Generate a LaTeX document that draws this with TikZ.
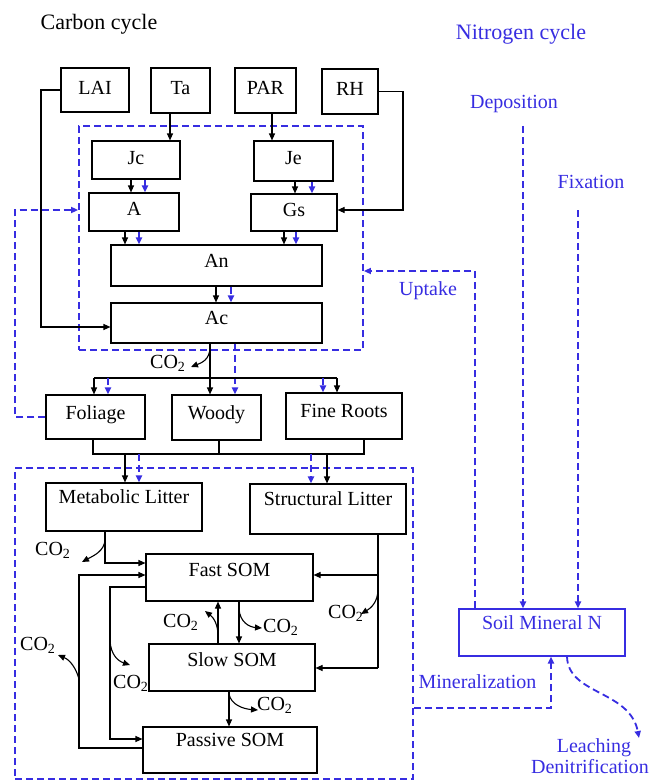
\documentclass[tikz,border=0pt]{standalone}
\usepackage{fontspec}
\setmainfont{Liberation Serif}
\usetikzlibrary{arrows.meta}
\definecolor{nblue}{RGB}{55,45,225}
\begin{document}
\begin{tikzpicture}[x=1pt,y=-1pt,
  box/.style={draw=black, line width=1.1pt, inner sep=0pt, font=\fontsize{20}{24}\selectfont, text height=13pt},
  sz/.style 2 args={minimum width=#1pt, minimum height=#2pt},
  up/.style={text depth=#1pt},
  nbox/.style={draw=nblue, line width=1.8pt, dash pattern=on 7pt off 4pt, inner sep=0pt},
  ln/.style={draw=black, line width=1.1pt},
  arr/.style={draw=black, line width=1.1pt, -{Triangle[length=7pt,width=6pt]}},
  barr/.style={draw=nblue, line width=1.8pt, dash pattern=on 7pt off 4pt, -{Triangle[length=7pt,width=6pt]}},
  lbl/.style={inner sep=0pt, font=\fontsize{20}{24}\selectfont},
  blbl/.style={inner sep=0pt, font=\fontsize{20}{24}\selectfont, text=nblue},
  ttl/.style={inner sep=0pt, font=\fontsize{22}{26}\selectfont}]
\useasboundingbox (0,0) rectangle (650,781);

% titles
\node[ttl, anchor=base] (tc) at (99,30) {Carbon cycle};
\node[ttl, anchor=base, text=nblue] (tn) at (521,40) {Nitrogen cycle};

% dashed nitrogen enclosures
\node[nbox, sz={284}{224}] (Nin) at (221,238) {};
\node[nbox, sz={398}{311}] (Nsoil) at (214,623.5) {};

% boxes
\node[box, sz={68}{44}, up=4] (LAI) at (95,90) {LAI};
\node[box, sz={59}{45}, up=5] (Ta) at (180.5,90.5) {Ta};
\node[box, sz={61}{45}, up=5] (PAR) at (265.5,90.5) {PAR};
\node[box, sz={56}{45}, up=5] (RH) at (350,91.5) {RH};
\node[box, sz={88}{38}, up=4] (Jc) at (136,160) {Jc};
\node[box, sz={79}{40}, up=6] (Je) at (293.5,161) {Je};
\node[box, sz={90}{38}, up=6] (A) at (134,212) {A};
\node[box, sz={86}{37}, up=5] (Gs) at (294,212.5) {Gs};
\node[box, sz={211}{41}, up=9] (An) at (216.5,265.5) {An};
\node[box, sz={211}{40}, up=10] (Ac) at (216.5,323) {Ac};
\node[box, sz={99}{44}, up=8] (Fol) at (95.5,417) {Foliage};
\node[box, sz={89}{45}, up=10] (Wood) at (216.5,417.5) {Woody};
\node[box, sz={116}{46}, up=10] (Root) at (344,416) {Fine Roots};
\node[box, sz={156}{48}, up=20] (Met) at (124,507) {Metabolic Litter};
\node[box, sz={156}{50}, up=20] (Str) at (328,509) {Structural Litter};
\node[box, sz={167}{47}, up=15] (Fast) at (229.5,577.5) {Fast SOM};
\node[box, sz={166}{47}, up=15] (Slow) at (232,667.5) {Slow SOM};
\node[box, sz={174}{46}, up=20] (Pas) at (230,750) {Passive SOM};
\node[box, draw=nblue, text=nblue, sz={166}{47}, up=19] (Soil) at (542,632.5) {Soil Mineral N};

% drivers
\draw[arr] (170,0 |- Ta.south) -- (170,0 |- Jc.north);
\draw[arr] (272,0 |- PAR.south) -- (272,0 |- Je.north);
\coordinate (rhc) at (403,210);
\draw[arr] (RH.east) -| (rhc) -- (rhc -| Gs.east);
\coordinate (laic) at (41,327);
\draw[arr] (LAI.west) -| (laic) -- (laic -| Ac.west);

% photosynthesis chain
\draw[arr] (131,0 |- Jc.south) -- (131,0 |- A.north);
\draw[barr] (145,0 |- Jc.south) -- (145,0 |- A.north);
\draw[arr] (295,0 |- Je.south) -- (295,0 |- Gs.north);
\draw[barr] (312,0 |- Je.south) -- (312,0 |- Gs.north);
\draw[arr] (125,0 |- A.south) -- (125,0 |- An.north);
\draw[barr] (139,0 |- A.south) -- (139,0 |- An.north);
\draw[arr] (284,0 |- Gs.south) -- (284,0 |- An.north);
\draw[barr] (296,0 |- Gs.south) -- (296,0 |- An.north);
\draw[arr] (216,0 |- An.south) -- (216,0 |- Ac.north);
\draw[barr] (231,0 |- An.south) -- (231,0 |- Ac.north);

% allocation
\draw[arr] (210,0 |- Ac.south) -- (210,0 |- Wood.north);
\draw[barr] (235,0 |- Ac.south) -- (235,0 |- Wood.north);
\coordinate (dl) at (94,378);
\coordinate (dr) at (337,378);
\draw[ln] (dl) -- (dr);
\draw[arr] (dl) -- (dl |- Fol.north);
\draw[arr] (dr) -- (dr |- Root.north);
\coordinate (bdl) at (108,378);
\coordinate (bdr) at (323,378);
\draw[barr] (bdl) -- (bdl |- Fol.north);
\draw[barr] (bdr) -- (bdr |- Root.north);
\node[lbl, anchor=base west] (co1) at (150,368) {CO\textsubscript{2}};
\draw[arr] (210,347) .. controls (210,360) and (201,363) .. (191,367);

% litterfall
\coordinate (c1) at (93,454);
\coordinate (c3) at (364,454);
\draw[ln] (c1 |- Fol.south) -- (c1) -- (c3) -- (c3 |- Root.south);
\draw[ln] (219,0 |- Wood.south) -- (219,454);
\draw[arr] (125,454) -- (125,0 |- Met.north);
\draw[barr] (139,454) -- (139,0 |- Met.north);
\draw[arr] (327,454) -- (327,0 |- Str.north);
\draw[barr] (311,454) -- (311,0 |- Str.north);

% loop from foliage to canopy box
\coordinate (ll) at (15,210);
\draw[barr] (Fol.west) -| (ll) -- (ll -| Nin.west);

% soil carbon
\coordinate (mf) at (105,563);
\draw[arr] (mf |- Met.south) -- (mf) -- (mf -| Fast.west);
\node[lbl, anchor=base west] (co2) at (35,555) {CO\textsubscript{2}};
\draw[arr] (105,539) .. controls (105,551) and (93,556) .. (82,562);

\coordinate (s1) at (378,575);
\coordinate (s2) at (378,668);
\draw[ln] (s2 |- Str.south) -- (s2);
\draw[arr] (s1) -- (s1 -| Fast.east);
\draw[arr] (s2) -- (s2 -| Slow.east);
\node[lbl, anchor=base west] (co3) at (328,618) {CO\textsubscript{2}};
\draw[arr] (378,589) .. controls (378,602) and (371,608) .. (361,614);

\draw[arr] (218,0 |- Slow.north) -- (218,0 |- Fast.south);
\draw[arr] (239,0 |- Fast.south) -- (239,0 |- Slow.north);
\node[lbl, anchor=base west] (co4) at (163,627) {CO\textsubscript{2}};
\draw[arr] (218,636) .. controls (218,625) and (214,618) .. (205,611);
\node[lbl, anchor=base west] (co5) at (263,632) {CO\textsubscript{2}};
\draw[arr] (239,609) .. controls (240,622) and (249,627) .. (262,628);

\draw[arr] (229,0 |- Slow.south) -- (229,0 |- Pas.north);
\node[lbl, anchor=base west] (co6) at (257,710) {CO\textsubscript{2}};
\draw[arr] (229,694) .. controls (231,705) and (244,709) .. (258,710);

\coordinate (p1) at (79,748);
\coordinate (p2) at (79,575);
\draw[arr] (p1 -| Pas.west) -- (p1) -- (p2) -- (p2 -| Fast.west);
\node[lbl, anchor=base west] (co7) at (20,650) {CO\textsubscript{2}};
\draw[arr] (79,679) .. controls (76,668) and (70,660) .. (58,655);

\coordinate (f1) at (110,587);
\coordinate (f2) at (110,739);
\draw[arr] (f1 -| Fast.west) -- (f1) -- (f2) -- (f2 -| Pas.west);
\node[lbl, anchor=base west] (co8) at (113,688) {CO\textsubscript{2}};
\draw[arr] (110,641) .. controls (111,655) and (118,661) .. (130,665);

% nitrogen cycle
\node[blbl, anchor=base] (dep) at (514,109) {Deposition};
\node[blbl, anchor=base] (fixl) at (591,188) {Fixation};
\node[blbl, anchor=base] (upl) at (428,295) {Uptake};
\node[blbl, anchor=base] (minl) at (477.5,688) {Mineralization};
\node[blbl, anchor=base] (leach) at (594,752) {Leaching};
\node[blbl, anchor=base east] (denit) at (649,773) {Denitrification};

\coordinate (depc) at (523,126);
\draw[barr] (depc) -- (depc |- Soil.north);
\coordinate (fixc) at (578,210);
\draw[barr] (fixc) -- (fixc |- Soil.north);
\coordinate (upc) at (475,271);
\draw[barr] (upc |- Soil.north) -- (upc) -- (upc -| Nin.east);
\coordinate (minc) at (551,708);
\draw[barr] (minc -| Nsoil.east) -- (minc) -- (minc |- Soil.south);
\draw[barr] (567,0 |- Soil.south) .. controls (568,695) and (630,690) .. (639,738);
\end{tikzpicture}
\end{document}
